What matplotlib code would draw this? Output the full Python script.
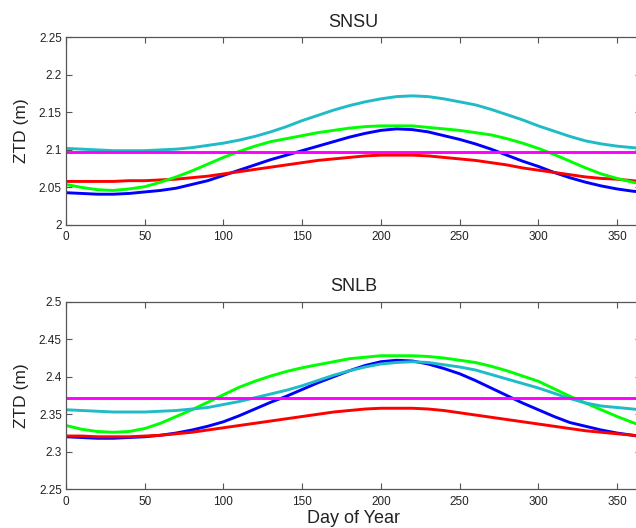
import matplotlib
matplotlib.use("Agg")
import matplotlib.pyplot as plt

# Day-of-year sample points
days = [0, 10, 20, 30, 40, 50, 60, 70, 80, 90, 100, 110, 120, 130, 140,
        150, 160, 170, 180, 190, 200, 210, 220, 230, 240, 250, 260, 270,
        280, 290, 300, 310, 320, 330, 340, 350, 360, 365]

# SNSU zenith total delay (m)
snsu_cyan = [2.102, 2.101, 2.100, 2.099, 2.099, 2.099, 2.100, 2.101, 2.103,
             2.106, 2.109, 2.113, 2.118, 2.124, 2.131, 2.139, 2.146, 2.153,
             2.159, 2.164, 2.168, 2.171, 2.172, 2.171, 2.168, 2.164, 2.160,
             2.154, 2.147, 2.140, 2.132, 2.125, 2.118, 2.112, 2.108, 2.105,
             2.103, 2.102]
snsu_green = [2.054, 2.050, 2.047, 2.046, 2.048, 2.051, 2.057, 2.064, 2.072,
              2.081, 2.090, 2.098, 2.105, 2.111, 2.115, 2.119, 2.123, 2.126,
              2.129, 2.131, 2.132, 2.132, 2.132, 2.130, 2.128, 2.126, 2.123,
              2.120, 2.115, 2.109, 2.102, 2.094, 2.085, 2.076, 2.068, 2.062,
              2.057, 2.055]
snsu_blue = [2.043, 2.042, 2.041, 2.041, 2.042, 2.044, 2.046, 2.049, 2.054,
             2.059, 2.066, 2.073, 2.080, 2.087, 2.093, 2.099, 2.105, 2.111,
             2.117, 2.122, 2.126, 2.128, 2.127, 2.124, 2.119, 2.114, 2.108,
             2.101, 2.093, 2.085, 2.078, 2.070, 2.063, 2.057, 2.052, 2.048,
             2.045, 2.044]
snsu_red = [2.058, 2.058, 2.058, 2.058, 2.059, 2.059, 2.060, 2.061, 2.063,
            2.065, 2.068, 2.071, 2.074, 2.077, 2.080, 2.083, 2.086, 2.088,
            2.090, 2.092, 2.093, 2.093, 2.093, 2.092, 2.090, 2.088, 2.086,
            2.083, 2.080, 2.076, 2.073, 2.070, 2.067, 2.064, 2.062, 2.061,
            2.059, 2.058]
snsu_const = 2.097

# SNLB zenith total delay (m)
snlb_cyan = [2.356, 2.355, 2.354, 2.353, 2.353, 2.353, 2.354, 2.355, 2.357,
             2.359, 2.363, 2.367, 2.372, 2.377, 2.382, 2.388, 2.395, 2.402,
             2.408, 2.413, 2.417, 2.419, 2.420, 2.419, 2.416, 2.413, 2.409,
             2.403, 2.397, 2.391, 2.385, 2.378, 2.371, 2.365, 2.361, 2.359,
             2.357, 2.356]
snlb_green = [2.335, 2.330, 2.327, 2.326, 2.327, 2.331, 2.338, 2.347, 2.356,
              2.366, 2.376, 2.386, 2.394, 2.401, 2.407, 2.412, 2.416, 2.420,
              2.424, 2.426, 2.428, 2.428, 2.428, 2.427, 2.425, 2.422, 2.419,
              2.414, 2.408, 2.401, 2.394, 2.384, 2.374, 2.365, 2.356, 2.347,
              2.339, 2.335]
snlb_blue = [2.320, 2.319, 2.318, 2.318, 2.319, 2.320, 2.322, 2.325, 2.329,
             2.334, 2.340, 2.348, 2.357, 2.366, 2.374, 2.383, 2.392, 2.400,
             2.408, 2.415, 2.420, 2.422, 2.421, 2.417, 2.411, 2.404, 2.395,
             2.385, 2.375, 2.365, 2.356, 2.347, 2.339, 2.334, 2.329, 2.325,
             2.322, 2.320]
snlb_red = [2.321, 2.321, 2.320, 2.320, 2.320, 2.321, 2.322, 2.324, 2.326,
            2.329, 2.332, 2.335, 2.338, 2.341, 2.344, 2.347, 2.350, 2.353,
            2.355, 2.357, 2.358, 2.358, 2.358, 2.357, 2.355, 2.352, 2.349,
            2.346, 2.343, 2.340, 2.337, 2.334, 2.331, 2.328, 2.326, 2.324,
            2.322, 2.321]
snlb_const = 2.372

x_ticks = [0, 50, 100, 150, 200, 250, 300, 350]
snsu_yticks = [2.0, 2.05, 2.1, 2.15, 2.2, 2.25]
snsu_ylabels = ["2", "2.05", "2.1", "2.15", "2.2", "2.25"]
snlb_yticks = [2.25, 2.3, 2.35, 2.4, 2.45, 2.5]
snlb_ylabels = ["2.25", "2.3", "2.35", "2.4", "2.45", "2.5"]

plt.rcParams["font.family"] = ["Liberation Sans", "DejaVu Sans"]

C_CYAN = "#1fbcc8"
C_GREEN = "#00ff00"
C_BLUE = "#0000ff"
C_RED = "#ff0000"
C_MAG = "#ff00ff"
SPINE = "#555555"
TXT = "#222222"
LW = 2.1

fig = plt.figure(figsize=(6.36, 5.28), dpi=100)
ax1 = fig.add_axes([0.1038, 0.5739, 0.9035, 0.3555])
ax2 = fig.add_axes([0.1038, 0.0733, 0.9035, 0.3553])


def draw(ax, title, blue, red, green, cyan, const, yticks, ylabels):
    style = dict(lw=LW, solid_joinstyle="round", solid_capstyle="butt")
    ax.plot(days, blue, color=C_BLUE, **style)
    ax.plot(days, red, color=C_RED, **style)
    ax.plot(days, green, color=C_GREEN, **style)
    ax.plot(days, cyan, color=C_CYAN, **style)
    ax.axhline(const, color=C_MAG, lw=LW)
    ax.set_xlim(0, 365)
    ax.set_ylim(yticks[0], yticks[-1])
    ax.set_xticks(x_ticks)
    ax.set_xticklabels([str(t) for t in x_ticks])
    ax.set_yticks(yticks)
    ax.set_yticklabels(ylabels)
    ax.tick_params(direction="in", length=4.5, width=0.8, color=SPINE,
                   top=True, right=True, labelsize=8.5, labelcolor=TXT)
    ax.tick_params(axis="x", pad=4.5)
    ax.tick_params(axis="y", pad=3)
    for s in ax.spines.values():
        s.set_color(SPINE)
        s.set_linewidth(0.9)
    ax.set_title(title, fontsize=13, color=TXT, pad=7.6)
    ax.set_ylabel("ZTD (m)", fontsize=12.5, color=TXT)
    ax.yaxis.set_label_coords(-0.064, 0.5)


draw(ax1, "SNSU", snsu_blue, snsu_red, snsu_green, snsu_cyan, snsu_const,
     snsu_yticks, snsu_ylabels)
draw(ax2, "SNLB", snlb_blue, snlb_red, snlb_green, snlb_cyan, snlb_const,
     snlb_yticks, snlb_ylabels)
ax2.set_xlabel("Day of Year", fontsize=13, color=TXT)
ax2.xaxis.set_label_coords(0.5, -0.112)

fig.savefig("out.png", dpi=100)
